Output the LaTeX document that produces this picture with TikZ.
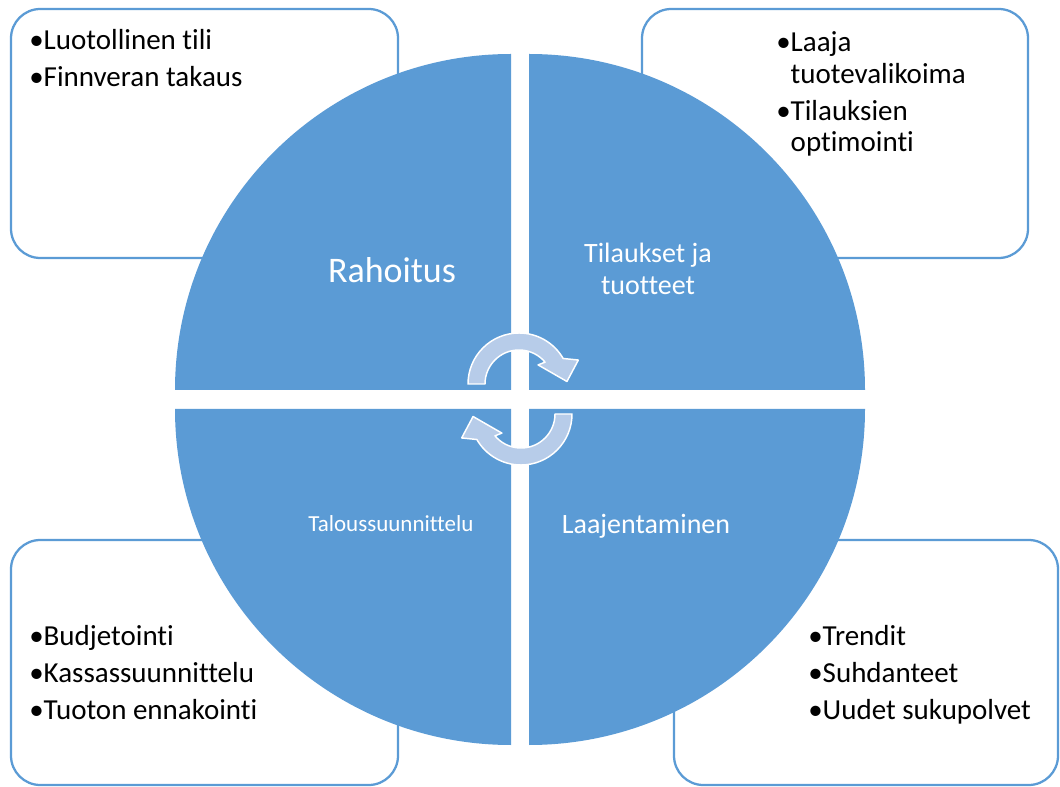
\documentclass[tikz,border=0pt]{standalone}
\usepackage{fontspec}
\setmainfont{Carlito}[Ligatures=NoCommon]
\usetikzlibrary{positioning}

\definecolor{quarterblue}{HTML}{5B9BD5}
\definecolor{arrowblue}{HTML}{B7CCE9}

\tikzset{
  infobox/.style={draw=quarterblue,line width=1.7pt,fill=white,rounded corners=22pt},
  quarter/.style={fill=quarterblue},
  boxtext/.style={anchor=base west,inner sep=0pt,align=left,font=\fontsize{21.75}{27.75}\selectfont},
  quarterlabel/.style={anchor=base,inner sep=0pt,text=white,align=center},
  cyclearrow/.style={fill=arrowblue,draw=white,line width=1.1pt,line join=round}
}

\begin{document}
\begin{tikzpicture}[x=0.75pt,y=-0.75pt]
\useasboundingbox (0,0) rectangle (1060,787);

% boxes behind the circle
\draw[infobox] (11,9) rectangle (398,258);
\draw[infobox] (642,9) rectangle (1028,258);
\draw[infobox] (11,540) rectangle (398,785);
\draw[infobox] (674,540) rectangle (1058,785);

% the four quarters
\fill[quarter] (511,390) -- (175,390) arc[start angle=180,end angle=270,radius=336] -- cycle;
\fill[quarter] (529,390) -- (529,54) arc[start angle=270,end angle=360,radius=336] -- cycle;
\fill[quarter] (529,409) -- (865,409) arc[start angle=0,end angle=90,radius=336] -- cycle;
\fill[quarter] (511,409) -- (511,745) arc[start angle=90,end angle=180,radius=336] -- cycle;

% quarter labels (base = last line)
\node[quarterlabel,font=\fontsize{27}{32}\selectfont] (rahoitus) at (392,283) {Rahoitus};
\node[quarterlabel,font=\fontsize{21}{24}\selectfont] (tilaukset) at (648,295) {Tilaukset ja\\tuotteet};
\node[quarterlabel,font=\fontsize{17.25}{20}\selectfont] (talous) at (391,532) {Taloussuunnittelu};
\node[quarterlabel,font=\fontsize{21}{24}\selectfont] (laajent) at (646,533) {Laajentaminen};

% box lists (base = last line)
\node[boxtext] (rahoitusList) at (29,87) {•Luotollinen tili\\•Finnveran takaus};
\node[boxtext] (tilausList) at (776,152) {•Laaja\\[-4pt]\phantom{•}tuotevalikoima\\•Tilauksien\\[-4pt]\phantom{•}optimointi};
\node[boxtext] (talousList) at (29,719) {•Budjetointi\\•Kassassuunnittelu\\•Tuoton ennakointi};
\node[boxtext] (laajentList) at (808,719) {•Trendit\\•Suhdanteet\\•Uudet sukupolvet};

% circular arrows in the middle
\foreach \turn in {0,180} {
  \begin{scope}[rotate around={\turn:(520,399)},shift={(519,384)}]
    \draw[cyclearrow] (180:51) arc[start angle=180,end angle=330,radius=51]
      -- (338:64) -- (357:48) -- (315:27) -- (320:34)
      arc[start angle=320,end angle=180,radius=34] -- cycle;
  \end{scope}
}
\end{tikzpicture}
\end{document}
